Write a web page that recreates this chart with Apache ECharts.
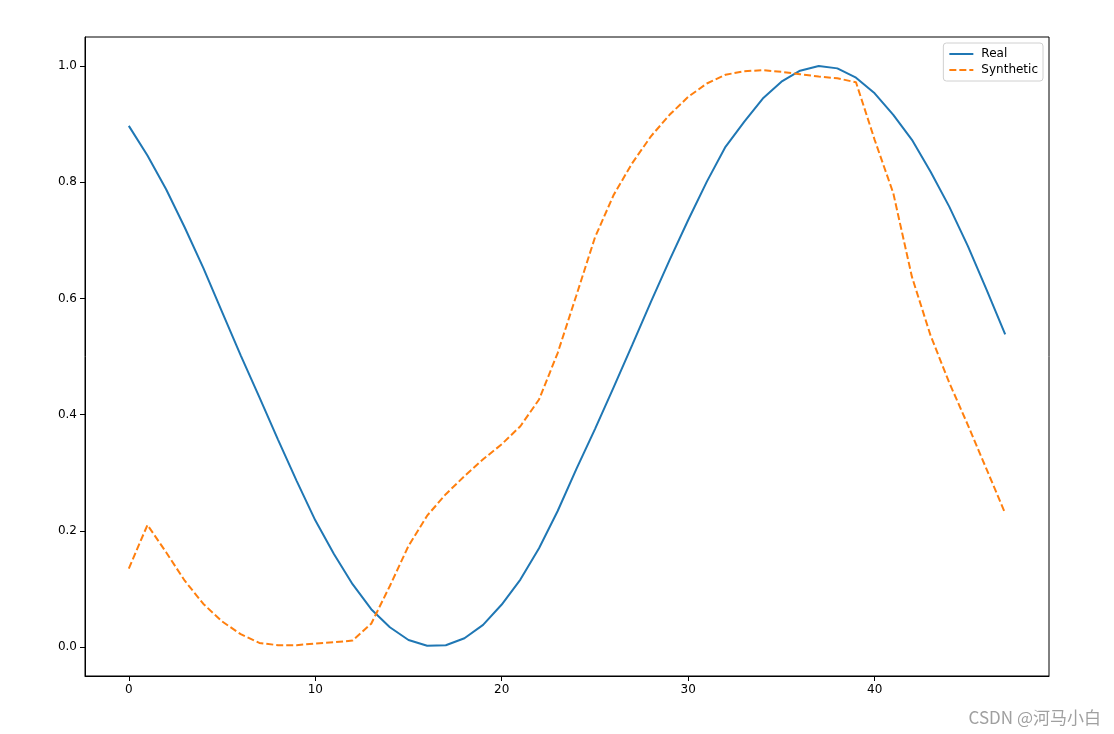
<!DOCTYPE html>
<html>
<head>
<meta charset="utf-8">
<script src="https://cdn.jsdelivr.net/npm/echarts@6/dist/echarts.min.js"></script>
<style>html,body{margin:0;padding:0;background:#fff}#c{width:1114px;height:734px}</style>
</head>
<body>
<div id="c"></div>
<script>
const steps = Array.from({length: 48}, (_, i) => i);
const realValues = [0.897,0.846,0.788,0.722,0.652,0.577,0.502,0.430,0.357,0.286,
  0.218,0.160,0.108,0.065,0.034,0.012,0.002,0.003,0.015,0.038,
  0.073,0.116,0.170,0.234,0.306,0.375,0.447,0.520,0.594,0.666,
  0.735,0.801,0.861,0.904,0.944,0.973,0.992,1.000,0.996,0.980,
  0.953,0.916,0.873,0.818,0.758,0.690,0.615,0.538];
const syntheticValues = [0.135,0.210,0.163,0.114,0.074,0.044,0.022,0.007,0.003,0.003,
  0.006,0.008,0.011,0.040,0.105,0.174,0.226,0.263,0.294,0.323,
  0.349,0.380,0.426,0.506,0.605,0.705,0.778,0.833,0.879,0.916,
  0.947,0.970,0.985,0.991,0.993,0.990,0.986,0.982,0.979,0.972,
  0.873,0.781,0.637,0.536,0.455,0.382,0.306,0.230];
const xTicks = [0, 10, 20, 30, 40];
const yTicks = [0.0, 0.2, 0.4, 0.6, 0.8, 1.0];
const seriesNames = ['Real', 'Synthetic'];

const chart = echarts.init(document.getElementById('c'), null, {renderer: 'canvas'});
const font = 'DejaVu Sans';
chart.setOption({
  animation: false,
  backgroundColor: '#fff',
  grid: {left: 85, right: 65, top: 37, bottom: 58, show: true, borderColor: '#000', borderWidth: 1, backgroundColor: 'transparent'},
  xAxis: {
    type: 'value', min: -2.35, max: 49.35,
    splitLine: {show: false},
    axisLine: {show: true, onZero: false, lineStyle: {color: '#000', width: 1}},
    axisTick: {show: true, length: 5, inside: false, customValues: xTicks, lineStyle: {color: '#000'}},
    axisLabel: {customValues: xTicks, color: '#000', fontFamily: font, fontSize: 12, margin: 8,
      formatter: v => String(v)}
  },
  yAxis: {
    type: 'value', min: -0.05, max: 1.05,
    splitLine: {show: false},
    axisLine: {show: true, onZero: false, lineStyle: {color: '#000', width: 1}},
    axisTick: {show: true, length: 5, inside: false, customValues: yTicks, lineStyle: {color: '#000'}},
    axisLabel: {customValues: yTicks, color: '#000', fontFamily: font, fontSize: 12, margin: 8,
      formatter: v => v.toFixed(1)}
  },
  legend: {
    orient: 'vertical', right: 71, top: 43,
    backgroundColor: '#fff', borderColor: '#d0d0d0', borderWidth: 1, borderRadius: 3,
    padding: [5, 5, 5, 5], itemGap: 4, itemWidth: 24, itemHeight: 13,
    itemStyle: {opacity: 0},
    textStyle: {fontFamily: font, fontSize: 12, color: '#000', padding: [0, 0, 0, 3]},
    data: seriesNames
  },
  series: [
    {name: seriesNames[0], type: 'line', symbol: 'none', color: '#1f77b4',
      lineStyle: {color: '#1f77b4', width: 2},
      data: steps.map((x, i) => [x, realValues[i]])},
    {name: seriesNames[1], type: 'line', symbol: 'none', color: '#ff7f0e',
      lineStyle: {color: '#ff7f0e', width: 2, type: [7, 3]},
      data: steps.map((x, i) => [x, syntheticValues[i]])}
  ],
  graphic: [{
    type: 'text', right: 13, bottom: 8,
    style: {text: 'CSDN @河马小白', fill: '#a0a0a0', font: '17px "Noto Sans CJK SC", sans-serif'}
  }]
});
</script>
</body>
</html>
